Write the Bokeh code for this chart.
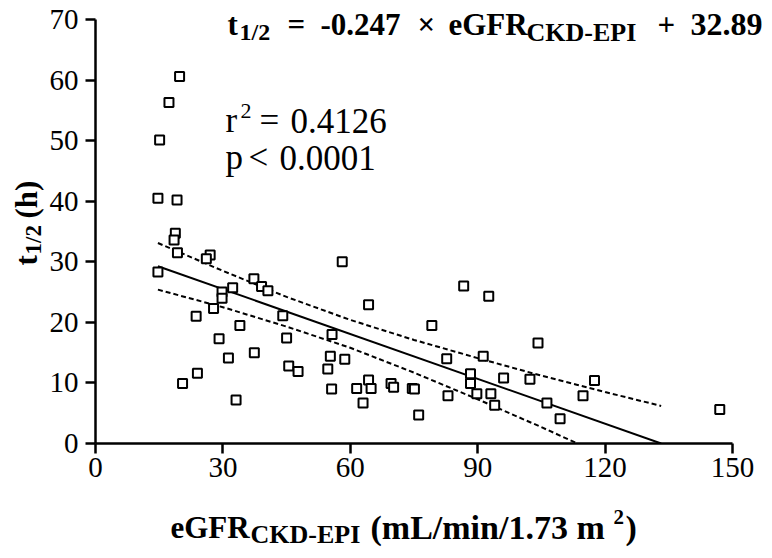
import math
from bokeh.plotting import figure
from bokeh.layouts import column, row
from bokeh.models import Range1d, Label, FixedTicker, ColumnDataSource
from bokeh.embed import file_html
from bokeh.resources import INLINE

# ---- data ----
egfr = [19.8, 17.3, 15.1, 14.7, 19.2, 18.8, 18.5, 19.3, 27.0, 26.1,
        14.7, 37.3, 39.1, 40.6, 29.8, 32.3, 29.8, 27.8, 23.7, 44.1,
        34.0, 29.1, 45.0, 55.7, 37.4, 31.3, 55.3, 45.5, 47.7, 54.7,
        24.0, 20.5, 55.6, 33.1, 58.1, 58.7, 64.3, 61.5, 64.3, 64.9,
        63.0, 69.6, 70.2, 74.6, 75.1, 76.1, 79.2, 82.7, 83.0, 86.7,
        92.6, 88.3, 88.3, 89.8, 91.3, 93.1, 94.0, 96.1, 102.3, 104.2,
        106.3, 109.4, 114.8, 117.5, 147.0]
t_half = [60.6, 56.3, 50.1, 40.5, 40.2, 34.7, 33.6, 31.5, 31.1, 30.5,
          28.3, 27.2, 25.9, 25.2, 25.0, 25.7, 24.0, 22.3, 21.0, 21.1,
          19.5, 17.3, 17.4, 18.0, 15.0, 14.1, 14.4, 12.8, 11.9, 12.3,
          11.6, 9.9, 9.0, 7.2, 30.0, 13.9, 22.9, 9.1, 10.5, 9.1,
          6.7, 9.9, 9.3, 9.1, 9.0, 4.7, 19.5, 14.0, 7.9, 26.0,
          24.3, 11.5, 9.9, 8.2, 14.4, 8.2, 6.3, 10.8, 10.6, 16.6,
          6.7, 4.1, 7.9, 10.4, 5.6]

fit_x = [14.7, 133.2]
fit_y = [29.26, 0.0]

upper_x = [14.7, 30, 45, 60, 75, 90, 105, 113.3, 120, 133.2]
upper_y = [33.1, 28.5, 24.2, 20.4, 17.1, 14.1, 11.2, 9.7, 8.5, 6.2]
lower_x = [14.7, 30, 45, 60, 75, 90, 105, 113.5]
lower_y = [25.4, 22.5, 19.3, 15.8, 11.7, 7.3, 2.7, 0.0]

x_ticks = [0, 30, 60, 90, 120, 150]
y_ticks = [0, 10, 20, 30, 40, 50, 60, 70]
x_axis_span = (0, 150)
y_axis_span = (0, 70)

FONT = "Liberation Serif"

# main plot: frame from page x=95 to 772, y=0 to 443; axes limited by bounds
FR_W, FR_H = 677, 443
p = figure(width=727, height=500, output_backend="svg", toolbar_location=None,
           title=None, frame_align=False,
           x_range=Range1d(0, 150 * FR_W / 637.0),
           y_range=Range1d(0, 70 * FR_H / 424.0),
           min_border_left=50, min_border_right=0,
           min_border_top=0, min_border_bottom=57)
p.outline_line_color = None
p.grid.visible = False
p.background_fill_color = "white"
p.border_fill_color = "white"

for ax in (p.xaxis[0], p.yaxis[0]):
    ax.axis_line_width = 2.5
    ax.axis_line_color = "black"
    ax.major_tick_line_width = 2.5
    ax.major_tick_line_color = "black"
    ax.major_tick_out = 10
    ax.major_tick_in = 0
    ax.minor_tick_out = 0
    ax.minor_tick_in = 0
    ax.major_label_text_font = FONT
    ax.major_label_text_font_style = "normal"
    ax.major_label_text_font_size = "29px"
    ax.major_label_text_color = "black"
p.xaxis.major_label_standoff = 4
p.yaxis.major_label_standoff = 7
p.xaxis.ticker = FixedTicker(ticks=x_ticks)
p.yaxis.ticker = FixedTicker(ticks=y_ticks)
p.xaxis.bounds = x_axis_span
p.yaxis.bounds = y_axis_span

p.line(fit_x, fit_y, line_color="black", line_width=2)
p.line(upper_x, upper_y, line_color="black", line_width=2, line_dash="5 3")
p.line(lower_x, lower_y, line_color="black", line_width=2, line_dash="5 3")

src = ColumnDataSource(data=dict(x=egfr, y=t_half))
p.scatter("x", "y", source=src, marker="square", size=9,
          line_color="black", line_width=2, fill_color="white")


def make_txt(fig, ox, oy):
    # ox, oy: page position of the figure frame's bottom-left corner
    def txt(s, px, py, size, bold=False, angle=0.0):
        fig.add_layout(Label(x=px - ox, y=oy - py, x_units="screen", y_units="screen",
                             text=s, text_font=FONT, text_font_size=f"{size}px",
                             text_font_style="bold" if bold else "normal",
                             text_color="black", text_baseline="alphabetic",
                             text_align="left", angle=angle))
    return txt


txt = make_txt(p, 95, 443)
# title equation
txt("t", 227, 24, 31, True)
txt("1/2", 239, 31, 24, True)
txt("=", 287, 24, 31, True)
txt("-0.247", 320, 24, 31, True)
txt("\u00d7", 417, 24, 31, True)
txt("eGFR", 448, 24, 31, True)
txt("CKD-EPI", 526, 32, 26, True)
txt("+", 657, 24, 31, True)
txt("32.89", 690, 24, 32, True)

# statistics
txt("r", 225, 120, 35)
txt("2", 240, 110, 22)
txt("=", 259, 120, 35)
txt("0.4126", 290, 120, 35)
txt("p", 225, 157, 35)
txt("<", 248, 157, 35)
txt("0.0001", 279, 157, 35)


def blank_fig(w, h):
    f = figure(width=w, height=h, output_backend="svg", toolbar_location=None,
               title=None, frame_align=False,
               x_axis_type=None, y_axis_type=None,
               x_range=Range1d(0, 1), y_range=Range1d(0, 1),
               min_border_left=0, min_border_right=0,
               min_border_top=0, min_border_bottom=0)
    f.outline_line_color = None
    f.grid.visible = False
    f.background_fill_color = "white"
    f.border_fill_color = "white"
    return f


# y axis title (left strip, page x 0..45, y 0..500)
ylab = blank_fig(45, 500)
ytxt = make_txt(ylab, 0, 500)
ang = math.pi / 2
ytxt("t", 26, 265, 31, True, ang)
ytxt("1/2", 33, 254, 23, True, ang)
ytxt("(h)", 26, 218, 31, True, ang)

# x axis title (bottom strip, page y 500..558; the strip's frame sits 13px lower)
xlab = blank_fig(772, 58)
xtxt = make_txt(xlab, 0, 571)
xtxt("eGFR", 170, 540, 31, True)
xtxt("CKD-EPI", 250, 547, 26, True)
xtxt("(mL/min/1.73 m", 370, 540, 34, True)
xtxt("2", 613, 529, 21, True)
xtxt(")", 625, 540, 34, True)

layout = column(row(ylab, p, spacing=0), xlab, spacing=0)

open("out.html", "w").write(file_html(layout, INLINE))
